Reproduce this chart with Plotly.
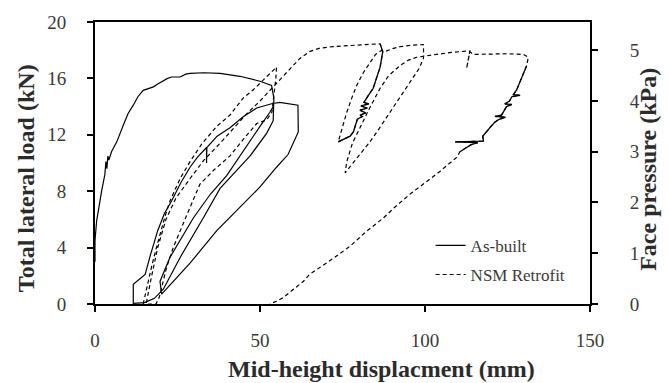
import plotly.graph_objects as go

# ---- As-built wall: mid-height displacement (mm) vs total lateral load (kN)
asbuilt_disp = [
    0.0, 0.0, 0.5, 1.0, 1.5, 2.0, 2.5, 3.0, 3.3, 3.6, 3.9, 4.2, 5.0, 6.6, 8.6, 10.0,
    11.6, 13.0, 14.6, 16.2, 17.7, 19.0, 20.7, 22.0, 23.2, 25.8, 27.5, 28.8, 33.0, 37.9,
    43.9, 48.0, 50.0, 53.5,
    54.2, 54.0, 52.0, 47.0, 42.0, 37.9, 32.8, 25.8, 20.7, 18.0, 15.0, 13.1, 11.6, 11.6,
    15.2, 16.7, 19.0, 21.0, 23.2, 26.0, 28.8, 31.0, 33.8, 33.8, 33.9, 37.0, 40.9, 45.0,
    49.0, 53.5, 56.0, 61.5, 61.6, 58.5, 55.0, 50.0, 44.9, 36.9, 28.8, 22.7, 20.2,
    19.7, 22.7, 29.8, 35.0, 39.9, 45.0, 50.0, 53.0, 54.0,
]
asbuilt_load = [
    3.0, 4.5, 5.9, 6.5, 7.3, 8.0, 8.5, 9.2, 10.1, 9.6, 10.5, 10.2, 10.8, 11.5, 12.7, 13.5,
    14.1, 14.7, 15.15, 15.3, 15.4, 15.6, 15.85, 16.0, 16.1, 16.1, 16.3, 16.35, 16.4, 16.35,
    16.15, 15.95, 15.8, 15.5,
    14.6, 13.0, 12.1, 10.5, 9.2, 8.2, 6.1, 3.3, 1.05, 0.4, 0.1, 0.05, 0.05, 1.4,
    2.1, 3.4, 5.2, 6.4, 7.3, 8.6, 9.7, 10.4, 11.1, 10.0, 11.1, 11.9, 12.5, 13.3,
    13.9, 14.2, 14.3, 14.1, 12.2, 10.6, 9.7, 8.3, 7.1, 5.2, 2.9, 1.3, 0.7,
    1.6, 3.3, 6.1, 7.8, 9.1, 10.9, 12.6, 13.6, 14.0,
]

# ---- NSM retrofitted wall
nsm_disp = [
    # first loading / unloading cycle
    14.6, 15.8, 17.2, 18.5, 19.7, 21.2, 22.7, 25.8, 28.8, 32.5, 36.9, 40.9, 44.9, 48.0,
    51.5, 55.0,
    54.8, 54.3, 53.6, 52.0, 49.0, 45.0, 40.9, 36.0, 31.8, 27.8, 23.7, 21.7, 20.7, 19.5,
    18.5,
    # reload to the envelope
    15.5, 17.0, 19.0, 21.5, 24.5, 28.8, 33.0, 37.9, 42.0, 46.0, 50.0, 53.0, 57.0, 62.0,
    65.0, 68.2, 72.0, 77.3, 82.0, 86.4,
    # first large cycle (noisy unloading)
    87.2, 86.4, 85.4, 84.3, 82.3, 81.5, 83.0, 80.6, 82.5, 80.3, 82.0, 80.3, 81.0, 79.5,
    78.3, 77.3, 73.7,
    75.0, 76.3, 77.8, 79.3, 81.3, 83.3, 85.0, 87.0,
    88.4, 90.0, 92.4, 96.0, 99.5, 99.6,
    # second large cycle
    99.5, 98.2, 94.0, 90.4, 86.0, 83.3, 79.0, 75.8,
    76.3, 78.0, 80.3, 83.0, 86.4, 89.0, 92.4, 95.0, 97.5, 100.0,
    103.5, 108.0, 113.6, 112.6, 113.6, 114.6, 120.0, 125.0, 129.8, 131.3, 130.8,
    # final noisy unloading
    129.8, 128.8, 127.8, 126.8, 128.8, 126.3, 125.6, 124.2, 126.3, 124.7, 124.0, 123.2,
    121.2, 124.4, 122.5, 121.2, 120.0, 118.7, 117.5, 117.7, 109.1, 116.0, 114.0, 112.6,
    110.6,
    109.6, 104.5, 100.0, 95.5, 91.0, 87.4, 82.0, 77.3, 72.0, 68.2, 65.0, 63.1, 61.0,
    59.1, 57.0, 55.0, 53.0,
]
nsm_load = [
    0.0, 1.3, 2.7, 3.9, 5.0, 6.2, 7.3, 8.9, 10.1, 11.4, 12.6, 13.4, 14.6, 15.2,
    16.0, 16.8,
    16.0, 14.8, 13.6, 13.05, 12.8, 11.7, 10.5, 9.5, 8.5, 6.3, 4.0, 2.6, 1.6, 0.5,
    0.0,
    0.0, 1.8, 4.0, 6.0, 7.5, 8.9, 10.2, 11.4, 12.5, 13.5, 14.4, 15.15, 16.2, 17.4,
    17.9, 18.15, 18.25, 18.35, 18.4, 18.45,
    17.9, 16.8, 16.0, 15.3, 14.6, 14.3, 14.2, 14.05, 13.9, 13.75, 13.55, 13.4, 13.3, 13.1,
    12.2, 11.9, 11.5,
    12.6, 13.6, 14.6, 15.5, 16.4, 17.1, 17.7, 18.0,
    17.95, 18.1, 18.25, 18.35, 18.4, 17.6,
    17.4, 16.7, 15.2, 13.9, 12.4, 11.5, 10.2, 9.3,
    10.1, 11.4, 12.5, 13.8, 15.3, 16.2, 16.9, 17.3, 17.5, 17.6,
    17.7, 17.85, 17.95, 16.7, 17.9, 17.7, 17.75, 17.75, 17.7, 17.5, 16.9,
    16.3, 15.7, 15.2, 14.85, 14.8, 14.7, 14.4, 14.2, 14.15, 14.0, 13.7, 13.4,
    13.3, 13.25, 13.1, 12.9, 12.6, 12.2, 11.9, 11.55, 11.5, 11.45, 11.3, 11.1,
    10.8,
    10.4, 9.4, 8.6, 7.8, 6.9, 6.1, 5.1, 4.1, 3.2, 2.6, 2.1, 1.6, 1.2,
    0.8, 0.45, 0.2, 0.0,
]

# index ranges of densely sampled (noisy) NSM segments, drawn as continuous strokes
nsm_dense_segments = [(50, 67), (110, 135)]

x_ticks = [0, 50, 100, 150]
load_ticks = [0, 4, 8, 12, 16, 20]
pressure_ticks = [0, 1, 2, 3, 4, 5]
kn_per_kpa = 3.6  # load carried per kPa of face pressure

serif = "Liberation Serif, Times New Roman, serif"
ink = "#000000"
grey_text = "#3a3a3a"
title_font = dict(family=serif, size=24, color="#2b2b2b")

fig = go.Figure()

fig.add_trace(go.Scatter(
    x=asbuilt_disp, y=asbuilt_load, mode="lines", name="As-built",
    line=dict(color=ink, width=1.2), legendgroup="a",
))
fig.add_trace(go.Scatter(
    x=nsm_disp, y=nsm_load, mode="lines", name="NSM Retrofit",
    line=dict(color=ink, width=1.2, dash="4px,3px"), legendgroup="b",
))
for i0, i1 in nsm_dense_segments:
    fig.add_trace(go.Scatter(
        x=nsm_disp[i0:i1 + 1], y=nsm_load[i0:i1 + 1], mode="lines",
        line=dict(color=ink, width=1.3), showlegend=False, hoverinfo="skip",
    ))

# secondary axis carries face pressure equivalent of the load scale
fig.add_trace(go.Scatter(x=[], y=[], yaxis="y2", showlegend=False, hoverinfo="skip"))

axis_common = dict(
    ticks="outside", ticklen=6, tickwidth=1.5, tickcolor=ink,
    showline=True, linecolor=ink, linewidth=2,
    showgrid=False, zeroline=False,
    tickfont=dict(size=19, color=grey_text),
)

fig.update_layout(
    width=669, height=383,
    margin=dict(l=95, r=79, t=19, b=79),
    paper_bgcolor="white", plot_bgcolor="white",
    font=dict(family=serif, color=grey_text),
    showlegend=True,
    legend=dict(
        x=0.678, y=0.27, xanchor="left", yanchor="top",
        bgcolor="rgba(0,0,0,0)", font=dict(size=17, color=grey_text),
        traceorder="grouped", tracegroupgap=4, itemwidth=30,
    ),
    xaxis=dict(range=[0, 150], tickvals=x_ticks, mirror=True,
               ticklabelstandoff=12, **axis_common),
    yaxis=dict(range=[0, 20], tickvals=load_ticks,
               ticklabelstandoff=17, **axis_common),
    yaxis2=dict(overlaying="y", side="right", range=[0, 20 / kn_per_kpa],
                tickvals=pressure_ticks, ticklabelstandoff=28, **axis_common),
    annotations=[
        dict(text="<b>Mid-height displacment (mm)</b>", xref="paper", yref="paper",
             x=0.578, y=-0.232, xanchor="center", yanchor="middle",
             showarrow=False, font=title_font),
        dict(text="<b>Total lateral load (kN)</b>", xref="paper", yref="paper",
             x=-0.139, y=0.447, xanchor="center", yanchor="middle", textangle=-90,
             showarrow=False, font=title_font),
        dict(text="<b>Face pressure (kPa)</b>", xref="paper", yref="paper",
             x=1.117, y=0.479, xanchor="center", yanchor="middle", textangle=-90,
             showarrow=False, font=title_font),
    ],
)

fig.write_html("out.html")
